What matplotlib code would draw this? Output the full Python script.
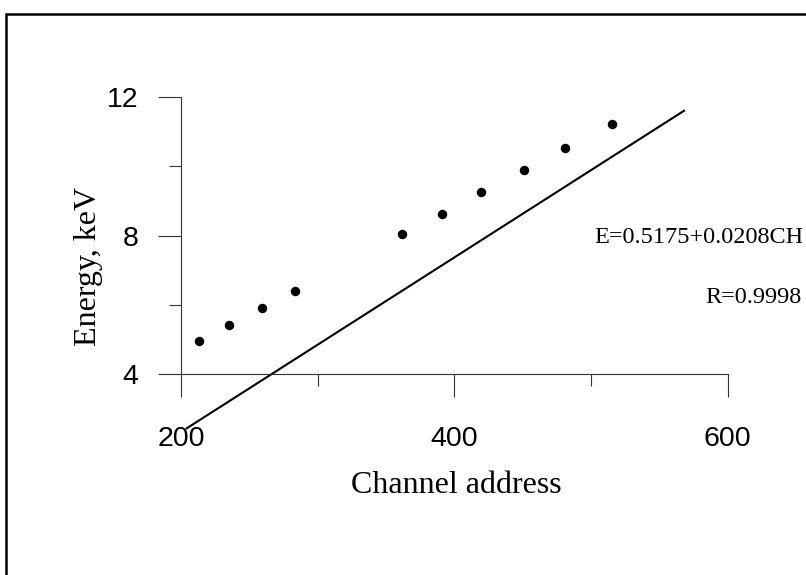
import matplotlib
matplotlib.use("Agg")
import matplotlib.pyplot as plt
from matplotlib.patches import Rectangle

# calibration points: channel address vs. line energy
channel = [213.2, 235.1, 259.3, 283.2, 361.5, 390.8, 419.7, 450.7, 480.8, 515.4]
energy = [4.96, 5.42, 5.90, 6.41, 8.05, 8.63, 9.25, 9.89, 10.53, 11.22]

# straight line as drawn on the plot (end points)
fit_x = [204.2, 568.0]
fit_y = [2.43, 11.61]

x_ticks = [200, 400, 600]
x_minor = [300, 500]
y_ticks = [4, 8, 12]
y_minor = [6, 10]

serif = ["Liberation Serif", "DejaVu Serif"]
sans = ["Liberation Sans", "DejaVu Sans"]

fig = plt.figure(figsize=(8.06, 5.75), dpi=100)
ax = fig.add_axes([0.2246, 0.3496, 0.6783, 0.4812])

ax.plot(channel, energy, "o", color="black", markersize=5.8, clip_on=False)
ax.plot(fit_x, fit_y, color="black", linewidth=1.5, clip_on=False)

ax.set_xlim(200, 600)
ax.set_ylim(4, 12)

for side in ["top", "right"]:
    ax.spines[side].set_visible(False)
for side in ["left", "bottom"]:
    ax.spines[side].set_linewidth(0.8)
    ax.spines[side].set_color("#333333")

ax.set_xticks(x_ticks)
ax.set_xticks(x_minor, minor=True)
ax.set_yticks(y_ticks)
ax.set_yticks(y_minor, minor=True)
ax.set_xticklabels([str(v) for v in x_ticks])
ax.set_yticklabels([str(v) for v in y_ticks])

ax.tick_params(axis="both", which="major", direction="out", length=16.6, width=0.8, color="#333333")
ax.tick_params(axis="both", which="minor", direction="out", length=8.4, width=0.8, color="#333333")
ax.tick_params(axis="x", which="major", pad=21)
ax.tick_params(axis="y", which="major", pad=14)
for lab in ax.get_xticklabels() + ax.get_yticklabels():
    lab.set_fontfamily(sans)
    lab.set_fontsize(20.5)

fig.text(0.5666, 0.1548, "Channel address", family=serif, fontsize=23,
         ha="center", va="center")
fig.text(0.1092, 0.5374, "Energy, keV", family=serif, fontsize=23,
         ha="center", va="center", rotation=90)

fig.text(0.9963, 1 - 237.7 / 575, "E=0.5175+0.0208CH", family=serif, fontsize=17.5,
         ha="right", va="center")
fig.text(0.9950, 1 - 297.3 / 575, "R=0.9998", family=serif, fontsize=17.5,
         ha="right", va="center")

# frame around the figure, running off the right and bottom edges
top = 1 - 14 / 575
left = 6 / 806
fig.patches.append(Rectangle((left, -0.5), 2.0, top + 0.5, transform=fig.transFigure,
                             fill=False, edgecolor="black", linewidth=1.8))

fig.savefig("out.png", dpi=100)
